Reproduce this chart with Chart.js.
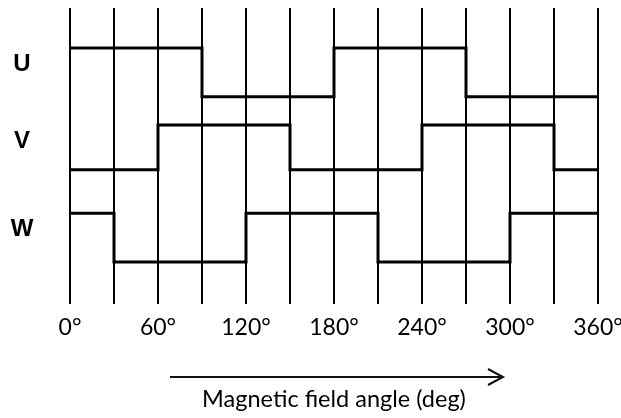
<!DOCTYPE html>
<html>
<head>
<meta charset="utf-8">
<script src="https://cdn.jsdelivr.net/npm/chart.js@4"></script>
<style>
  html, body { margin: 0; padding: 0; background: #fff; }
</style>
</head>
<body>
<canvas id="phaseChart" width="621" height="418"></canvas>
<script>
// rotor angle breakpoints, one every 30 deg
const angles = [0, 30, 60, 90, 120, 150, 180, 210, 240, 270, 300, 330, 360];
const tickLabels = ["0°", "60°", "120°", "180°", "240°", "300°", "360°"];
const phaseNames = ["U", "V", "W"];

// hall sensor state (1 = high) holding from each breakpoint to the next
const uState = [1, 1, 1, 0, 0, 0, 1, 1, 1, 0, 0, 0, 0];
const vState = [0, 0, 1, 1, 1, 0, 0, 0, 1, 1, 1, 0, 0];
const wState = [1, 0, 0, 0, 1, 1, 1, 0, 0, 0, 1, 1, 1];

// vertical level of each trace when high / low
const highLevels = [5.19, 3.63, 1.84];
const lowLevels = [4.20, 2.72, 0.85];

function trace(states, i) {
  return angles.map((a, k) => ({ x: a, y: states[k] ? highLevels[i] : lowLevels[i] }));
}

const states = [uState, vState, wState];

const datasets = states.map((s, i) => ({
  label: phaseNames[i],
  data: trace(s, i),
  stepped: true,
  borderColor: "#000",
  borderWidth: 3,
  pointRadius: 0,
  fill: false
}));

// U / V / W names left of the traces, plus the direction arrow under the axis
const decorations = {
  id: "decorations",
  afterDraw(chart) {
    const { ctx, chartArea, scales } = chart;
    ctx.save();
    ctx.fillStyle = "#000";
    ctx.font = 'bold 24px "Liberation Sans"';
    ctx.textAlign = "center";
    ctx.textBaseline = "middle";
    phaseNames.forEach((name, i) => {
      const y = scales.y.getPixelForValue(highLevels[i]) + 16;
      ctx.fillText(name, chartArea.left - 48, y);
    });

    const ay = chartArea.bottom + 73;
    const x0 = chartArea.left + 100;
    const x1 = chartArea.right - 95;
    ctx.strokeStyle = "#111";
    ctx.lineWidth = 2;
    ctx.beginPath();
    ctx.moveTo(x0, ay);
    ctx.lineTo(x1, ay);
    ctx.moveTo(x1 - 15, ay - 8);
    ctx.lineTo(x1, ay);
    ctx.lineTo(x1 - 15, ay + 8);
    ctx.stroke();
    ctx.restore();
  }
};

new Chart(document.getElementById("phaseChart"), {
  type: "line",
  data: { datasets },
  options: {
    responsive: false,
    animation: false,
    layout: { padding: { left: 70, right: 23, top: 8, bottom: 0 } },
    plugins: { legend: { display: false }, tooltip: { enabled: false } },
    scales: {
      x: {
        type: "linear",
        min: 0,
        max: 360,
        border: { display: false },
        grid: { color: "#000", lineWidth: 2, drawTicks: false },
        ticks: {
          stepSize: 30,
          autoSkip: false,
          maxRotation: 0,
          padding: 10,
          color: "#000",
          font: { family: "Lato", size: 23 },
          callback: v => (v % 60 === 0 ? tickLabels[v / 60] : "")
        },
        title: {
          display: true,
          text: "Magnetic field angle (deg)",
          color: "#000",
          font: { family: "Lato", size: 23.5 },
          padding: { top: 0, bottom: 4 }
        },
        afterFit(scale) {
          // keep the axis box fixed and let "360°" hang into the right margin
          scale.height = 114;
          scale.paddingLeft = 0;
          scale.paddingRight = 0;
        }
      },
      y: {
        display: false,
        min: 0,
        max: 6
      }
    }
  },
  plugins: [decorations]
});
</script>
</body>
</html>
